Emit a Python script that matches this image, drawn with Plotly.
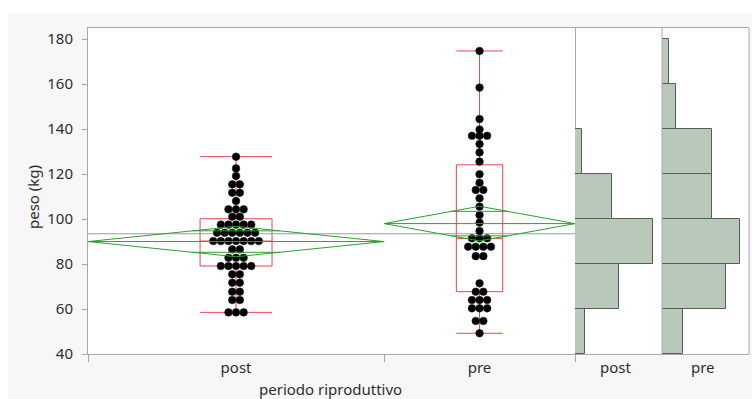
import numpy as np
import plotly.graph_objects as go

# Body weight (kg) by reproductive period
periods = ["post", "pre"]

peso_post = [
    58.5, 58.5, 58.5,
    64.0, 64.0, 67.7, 67.7, 71.7, 71.7, 75.4, 75.4,
    79.1, 79.1, 79.1, 79.1, 79.1,
    82.8, 82.8, 82.8, 86.5, 86.5,
    90.2, 90.2, 90.2, 90.2, 90.2, 90.2, 90.2,
    93.9, 93.9, 93.9, 93.9, 93.9, 93.9,
    97.5, 97.5, 97.5, 97.5, 97.5,
    101.0, 101.0, 104.3, 104.3, 104.3, 108.0,
    111.7, 111.7, 115.4, 115.4, 119.1,
    122.5, 127.7,
]

peso_pre = [
    49.2, 54.7, 54.7,
    60.3, 60.3, 60.3, 64.0, 64.0, 64.0, 67.7, 67.7, 71.4,
    83.5, 83.5, 87.7, 87.7, 87.7, 87.7, 91.4, 91.4, 91.4, 94.7, 98.4,
    101.8, 105.5, 109.2, 112.9, 112.9, 116.1, 119.9,
    125.5, 129.6, 133.3, 137.0, 137.0, 137.0, 139.8,
    144.4, 158.4, 174.7,
]

y_ticks = [40, 60, 80, 100, 120, 140, 160, 180]

# ---- style ----
W, H = 752, 399
FONT = "Noto Sans"
TEXT = "#2e2e2e"
AXIS = "#a8a8a8"
RED = "#f0414f"
GREEN = "#2e9f2e"
MEAN_GRAY = "#9c9c9c"
HIST_FILL = "#b9c9b9"
HIST_EDGE = "#5a5a5a"
BG = "#f7f7f7"

# pixel layout of the panels
X_MAIN = (88, 575)
X_H1 = (575, 662)
X_H2 = (662, 749)
Y_TOP, Y_BOT = 28, 354
Y_RANGE = [40, 184.9]


def px_x(p):
    return p / W


def px_y(p):
    return (H - p) / H


groups = [np.array(peso_post), np.array(peso_pre)]
split = 0.608                      # share of the main axis taken by "post"
regions = [(0.0, split), (split, 1.0)]
centers = [(a + b) / 2 for a, b in regions]
main_px = X_MAIN[1] - X_MAIN[0]


def swarm_offsets(vals, step):
    """Spread equal values side by side, centred on the group position."""
    offs = np.zeros(len(vals))
    for v in np.unique(vals):
        idx = np.where(vals == v)[0]
        k = len(idx)
        offs[idx] = (np.arange(k) - (k - 1) / 2) * step
    return offs


fig = go.Figure()

# grand mean reference line
grand = np.concatenate(groups).mean()
fig.add_trace(go.Scatter(
    x=[0, 1], y=[grand, grand], mode="lines",
    line=dict(color=MEAN_GRAY, width=1),
    hoverinfo="skip", showlegend=False))

# data points
step = 7.6 / main_px
for vals, c in zip(groups, centers):
    fig.add_trace(go.Scatter(
        x=c + swarm_offsets(vals, step), y=vals, mode="markers",
        marker=dict(size=7.6, color="black",
                    line=dict(width=0.6, color="#1a1a1a")),
        hoverinfo="skip", showlegend=False))

# box plots (quantiles as (n+1)p)
for vals, (a, b), c in zip(groups, regions, centers):
    q1, med, q3 = np.quantile(vals, [0.25, 0.5, 0.75], method="weibull")
    iqr = q3 - q1
    lo = vals[vals >= q1 - 1.5 * iqr].min()
    hi = vals[vals <= q3 + 1.5 * iqr].max()
    fig.add_trace(go.Box(
        x=[c], q1=[q1], median=[med], q3=[q3],
        lowerfence=[lo], upperfence=[hi],
        width=0.243 * (b - a), whiskerwidth=1,
        line=dict(color=RED, width=1), fillcolor="rgba(0,0,0,0)",
        boxpoints=False, hoverinfo="skip", showlegend=False))

# means diamonds (pooled standard error, 95%)
n_tot = sum(len(g) for g in groups)
ss_within = sum(((g - g.mean()) ** 2).sum() for g in groups)
sp = np.sqrt(ss_within / (n_tot - len(groups)))
T975 = 1.9867
for vals, (a, b), c in zip(groups, regions, centers):
    m = vals.mean()
    h = T975 * sp / np.sqrt(len(vals))
    inset = (b - a) / 2 * (1 - 1 / np.sqrt(2))
    o = h / np.sqrt(2)
    xs = [a, c, b, c, a, None, a, b, None,
          c - inset, c + inset, None, c - inset, c + inset]
    ys = [m, m + h, m, m - h, m, None, m, m, None,
          m + o, m + o, None, m - o, m - o]
    fig.add_trace(go.Scatter(
        x=xs, y=ys, mode="lines", line=dict(color=GREEN, width=1),
        hoverinfo="skip", showlegend=False))

# side histograms, one per period
bins = np.arange(40, 201, 20)
hist_dom = [X_H1, X_H2]
for i, vals in enumerate(groups):
    counts, _ = np.histogram(vals, bins)
    ax = f"x{i + 2}"
    fig.add_trace(go.Histogram(
        y=vals, ybins=dict(start=40, end=200, size=20),
        xaxis=ax, yaxis="y",
        marker=dict(color=HIST_FILL, line=dict(color=HIST_EDGE, width=1)),
        hoverinfo="skip", showlegend=False))
    fig.layout[f"xaxis{i + 2}"] = dict(
        domain=[px_x(hist_dom[i][0]), px_x(hist_dom[i][1])],
        range=[0, counts.max() * 1.11], anchor="y", automargin=False,
        showticklabels=False, ticks="", showgrid=False, zeroline=False,
        showline=True, mirror=True, linecolor=AXIS, linewidth=1)

tick_font = dict(family=FONT, size=15, color=TEXT)

fig.update_layout(
    width=W, height=H, autosize=False,
    margin=dict(l=0, r=0, t=0, b=0),
    paper_bgcolor=BG, plot_bgcolor="white",
    bargap=0,
    xaxis=dict(
        domain=[px_x(X_MAIN[0]), px_x(X_MAIN[1])], range=[0, 1],
        automargin=False,
        tickmode="array", tickvals=centers, ticktext=periods,
        ticks="", tickfont=tick_font, ticklabelstandoff=0,
        minor=dict(tickmode="array", tickvals=[0, split, 1],
                   ticks="outside", ticklen=7, tickcolor=AXIS),
        showgrid=False, zeroline=False,
        showline=True, mirror=True, linecolor=AXIS, linewidth=1),
    yaxis=dict(
        domain=[px_y(Y_BOT), px_y(Y_TOP)], range=Y_RANGE, anchor="x",
        automargin=False,
        tickmode="array", tickvals=y_ticks,
        ticks="outside", ticklen=5, tickcolor=AXIS,
        tickfont=tick_font, ticklabelstandoff=6,
        showgrid=False, zeroline=False,
        showline=True, mirror=True, linecolor=AXIS, linewidth=1),
    shapes=[
        # white strips around the frame
        dict(type="rect", xref="paper", yref="paper",
             x0=0, x1=1, y0=px_y(13), y1=1,
             fillcolor="white", line=dict(width=0), layer="below"),
        dict(type="rect", xref="paper", yref="paper",
             x0=0, x1=px_x(8), y0=0, y1=1,
             fillcolor="white", line=dict(width=0), layer="below"),
        # histogram panel separators
        dict(type="line", xref="paper", yref="paper",
             x0=px_x(X_H1[1]), x1=px_x(X_H1[1]),
             y0=px_y(Y_BOT), y1=px_y(Y_TOP),
             line=dict(color=AXIS, width=1)),
        dict(type="line", xref="paper", yref="paper",
             x0=px_x(X_H2[1]), x1=px_x(X_H2[1]),
             y0=px_y(Y_BOT), y1=px_y(Y_TOP),
             line=dict(color=AXIS, width=1)),
    ],
    annotations=[
        dict(text="peso (kg)", xref="paper", yref="paper",
             x=px_x(33), y=px_y(197), textangle=-90, showarrow=False,
             xanchor="center", yanchor="middle",
             font=dict(family=FONT, size=15, color=TEXT)),
        dict(text="periodo riproduttivo", xref="paper", yref="paper",
             x=px_x(330), y=px_y(389), showarrow=False,
             xanchor="center", yanchor="middle",
             font=dict(family=FONT, size=15, color=TEXT)),
        dict(text=periods[0], xref="paper", yref="paper",
             x=px_x(615), y=px_y(367), showarrow=False,
             xanchor="center", yanchor="middle", font=tick_font),
        dict(text=periods[1], xref="paper", yref="paper",
             x=px_x(703), y=px_y(367), showarrow=False,
             xanchor="center", yanchor="middle", font=tick_font),
    ],
)

fig.write_html("out.html")
